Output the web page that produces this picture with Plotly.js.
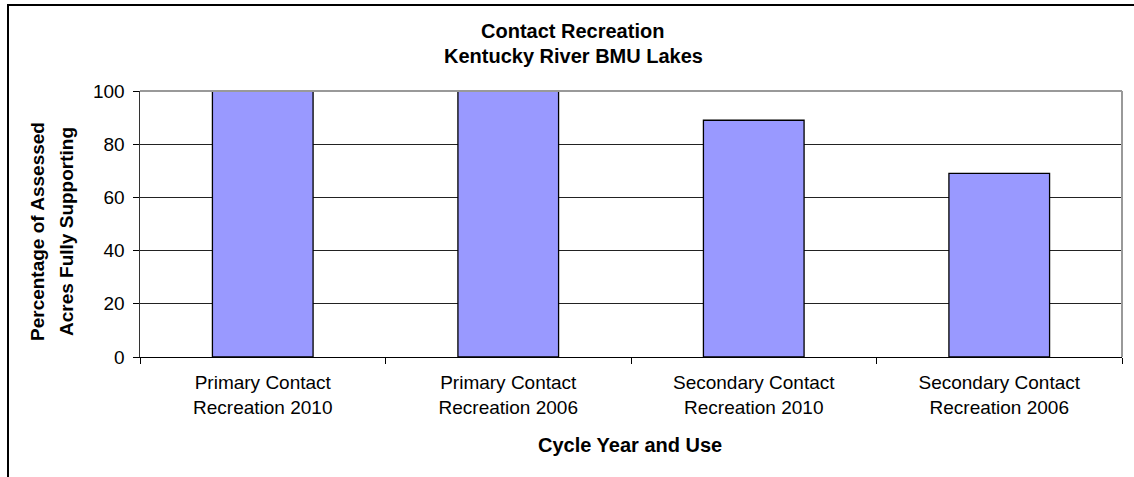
<!DOCTYPE html>
<html><head><meta charset="utf-8">
<script src="https://cdn.plot.ly/plotly-3.0.1.min.js"></script>
<style>
html,body{margin:0;padding:0;background:#fff;overflow:hidden}
#frame{position:absolute;left:7px;top:4px;width:1200px;height:500px;border-left:2px solid #000;border-top:2px solid #000;}
#chart{position:absolute;left:0;top:0;width:1134px;height:477px}
</style></head>
<body>
<div id="chart"></div>
<div id="frame"></div>
<script>
const categories = ["Primary Contact<br>Recreation 2010","Primary Contact<br>Recreation 2006","Secondary Contact<br>Recreation 2010","Secondary Contact<br>Recreation 2006"];
const values = [100, 100, 89, 69];
const yTicks = [0, 20, 40, 60, 80, 100];
const titleLines = ["Contact Recreation", "Kentucky River BMU Lakes"];
const yTitleLines = ["Percentage of Assessed", "Acres Fully Supporting"];
const xTitle = "Cycle Year and Use";

const font = "Liberation Sans, Arial, sans-serif";
const L = 140, R = 1122, T = 91, B = 357;
const px = x => (x - L) / (R - L);
const py = y => (B - y) / (B - T);

const ann = (text, x, y, angle, size) => ({
  text: '<b>' + text + '</b>', xref: 'paper', yref: 'paper', x: px(x), y: py(y),
  xanchor: 'center', yanchor: 'middle', showarrow: false, textangle: angle || 0,
  font: {size: size || 19, family: font, color: '#000'}
});

Plotly.newPlot('chart', [{
  type: 'bar', x: categories, y: values,
  marker: {color: '#9999FF', line: {color: '#000', width: 1.3}},
  width: 0.41, hoverinfo: 'none'
}], {
  width: 1134, height: 477,
  margin: {l: L, r: 1134 - R, t: T, b: 477 - B},
  paper_bgcolor: 'rgba(0,0,0,0)', plot_bgcolor: '#fff',
  showlegend: false,
  font: {family: font, color: '#000', size: 19},
  xaxis: {
    type: 'category', showline: true, linecolor: '#000', linewidth: 1,
    ticks: 'outside', tickson: 'boundaries', ticklen: 6, tickcolor: '#000',
    showgrid: false, tickfont: {size: 19}, automargin: false, ticklabelstandoff: 8
  },
  yaxis: {
    range: [0, 100], tickvals: yTicks, ticktext: yTicks.map(String),
    showline: true, linecolor: '#333', linewidth: 1.5,
    ticks: 'outside', ticklen: 6, tickcolor: '#000',
    showgrid: true, gridcolor: '#222', gridwidth: 1, zeroline: false,
    tickfont: {size: 19}, automargin: false, ticklabelstandoff: 4
  },
  annotations: [
    ann(titleLines[0], 572, 31, 0, 20),
    ann(titleLines[1], 573, 56, 0, 20),
    ann(yTitleLines[0], 37, 232, -90),
    ann(yTitleLines[1], 66, 232, -90),
    ann(xTitle, 630, 445, 0, 20)
  ],
  shapes: [
    {type: 'line', xref: 'paper', yref: 'paper', x0: 0, x1: 1, y0: 1, y1: 1, line: {color: '#999', width: 2}},
    {type: 'line', xref: 'paper', yref: 'paper', x0: 1, x1: 1, y0: 0, y1: 1, line: {color: '#999', width: 2}}
  ]
}, {staticPlot: true});
</script>
</body></html>
